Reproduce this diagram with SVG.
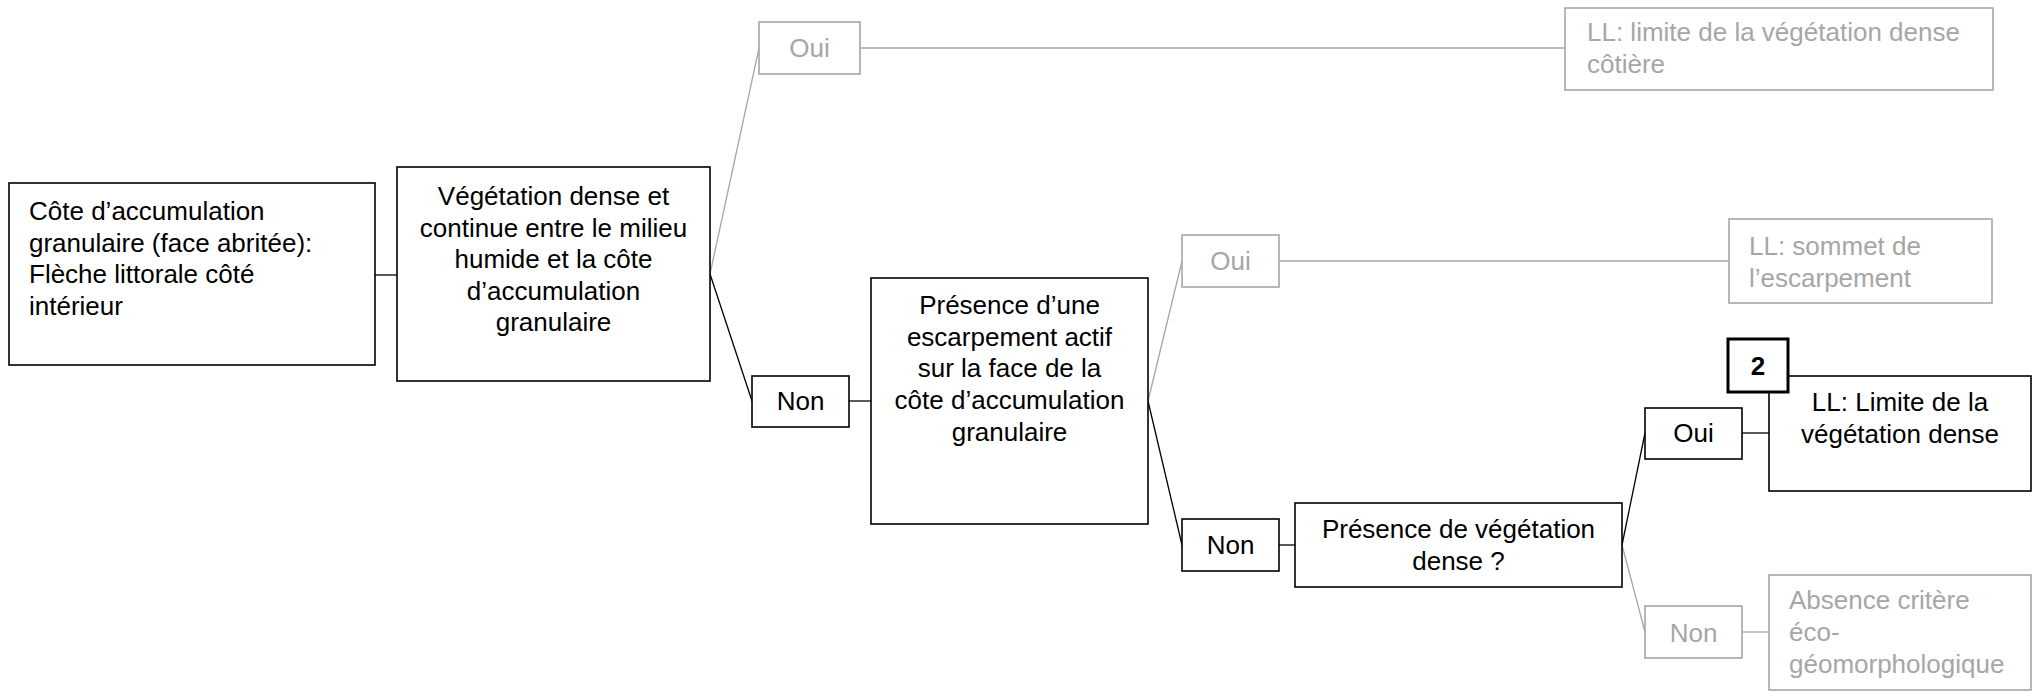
<svg xmlns="http://www.w3.org/2000/svg" width="2032" height="691" viewBox="0 0 2032 691">
<style>
text{font-family:"Liberation Sans",Arial,sans-serif;font-size:26px;fill:#000}
.g text{fill:#a6a6a6}
.b{fill:#fff;stroke:#000;stroke-width:1.6}
.gb{fill:#fff;stroke:#a6a6a6;stroke-width:1.6}
.c{text-anchor:middle}
.k{stroke:#000;stroke-width:1.3;fill:none}
.kg{stroke:#a6a6a6;stroke-width:1.3;fill:none}
</style>
<rect width="2032" height="691" fill="#fff"/>
<g id="connectors">
<line class="k" x1="375" y1="275" x2="397" y2="275"/>
<line class="kg" x1="710" y1="274" x2="759" y2="48"/>
<line class="k" x1="710" y1="274" x2="752" y2="401"/>
<line class="kg" x1="860" y1="48" x2="1565" y2="48"/>
<line class="k" x1="849" y1="401" x2="871" y2="401"/>
<line class="kg" x1="1148" y1="401" x2="1182" y2="261"/>
<line class="k" x1="1148" y1="401" x2="1182" y2="545"/>
<line class="kg" x1="1279" y1="261" x2="1729" y2="261"/>
<line class="k" x1="1279" y1="545" x2="1295" y2="545"/>
<line class="k" x1="1622" y1="545" x2="1645" y2="433"/>
<line class="kg" x1="1622" y1="545" x2="1645" y2="632"/>
<line class="k" x1="1742" y1="433" x2="1769" y2="433"/>
<line class="kg" x1="1742" y1="632" x2="1769" y2="632"/>
</g>
<g id="n1">
<rect class="b" x="9" y="183" width="366" height="182"/>
<text x="29" y="220">Côte d’accumulation</text>
<text x="29" y="252">granulaire (face abritée):</text>
<text x="29" y="283">Flèche littorale côté</text>
<text x="29" y="315">intérieur</text>
</g>
<g id="n2">
<rect class="b" x="397" y="167" width="313" height="214"/>
<text class="c" x="553.5" y="205">Végétation dense et</text>
<text class="c" x="553.5" y="236.5">continue entre le milieu</text>
<text class="c" x="553.5" y="268">humide et la côte</text>
<text class="c" x="553.5" y="299.5">d’accumulation</text>
<text class="c" x="553.5" y="331">granulaire</text>
</g>
<g id="oui1" class="g">
<rect class="gb" x="759" y="22" width="101" height="52"/>
<text class="c" x="809.5" y="57">Oui</text>
</g>
<g id="ll1" class="g">
<rect class="gb" x="1565" y="8" width="428" height="82"/>
<text x="1587" y="41">LL: limite de la végétation dense</text>
<text x="1587" y="73">côtière</text>
</g>
<g id="non1">
<rect class="b" x="752" y="376" width="97" height="51"/>
<text class="c" x="800.5" y="410">Non</text>
</g>
<g id="n3">
<rect class="b" x="871" y="278" width="277" height="246"/>
<text class="c" x="1009.5" y="314">Présence d’une</text>
<text class="c" x="1009.5" y="346">escarpement actif</text>
<text class="c" x="1009.5" y="377">sur la face de la</text>
<text class="c" x="1009.5" y="409">côte d’accumulation</text>
<text class="c" x="1009.5" y="441">granulaire</text>
</g>
<g id="oui2" class="g">
<rect class="gb" x="1182" y="235" width="97" height="52"/>
<text class="c" x="1230.5" y="270">Oui</text>
</g>
<g id="ll2" class="g">
<rect class="gb" x="1729" y="219" width="263" height="84"/>
<text x="1749" y="255">LL: sommet de</text>
<text x="1749" y="287">l’escarpement</text>
</g>
<g id="non2">
<rect class="b" x="1182" y="519" width="97" height="52"/>
<text class="c" x="1230.5" y="554">Non</text>
</g>
<g id="n4">
<rect class="b" x="1295" y="503" width="327" height="84"/>
<text class="c" x="1458.5" y="538">Présence de végétation</text>
<text class="c" x="1458.5" y="570">dense ?</text>
</g>
<g id="oui3">
<rect class="b" x="1645" y="408" width="97" height="51"/>
<text class="c" x="1693.5" y="442">Oui</text>
</g>
<g id="ll3">
<rect class="b" x="1769" y="376" width="262" height="115"/>
<text class="c" x="1900" y="411">LL: Limite de la</text>
<text class="c" x="1900" y="443">végétation dense</text>
</g>
<g id="badge">
<rect x="1728" y="339" width="60" height="53" fill="#fff" stroke="#000" stroke-width="3"/>
<text class="c" x="1758" y="375" style="font-weight:bold">2</text>
</g>
<g id="non3" class="g">
<rect class="gb" x="1645" y="606" width="97" height="52"/>
<text class="c" x="1693.5" y="642">Non</text>
</g>
<g id="absence" class="g">
<rect class="gb" x="1769" y="575" width="262" height="115"/>
<text x="1789" y="609">Absence critère</text>
<text x="1789" y="641">éco-</text>
<text x="1789" y="673">géomorphologique</text>
</g>
</svg>
